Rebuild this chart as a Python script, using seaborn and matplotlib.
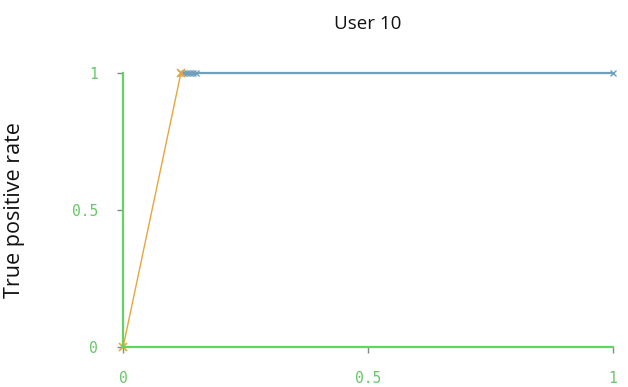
import matplotlib
matplotlib.use("Agg")
import matplotlib.pyplot as plt
import seaborn as sns
import pandas as pd

# ROC curve pieces for one user
rise_fpr = [0.0, 0.118]
rise_tpr = [0.0, 1.0]
flat_fpr = [0.118, 0.124, 0.130, 0.136, 0.142, 0.148, 1.0]
flat_tpr = [1.0, 1.0, 1.0, 1.0, 1.0, 1.0, 1.0]
tick_vals = [0, 0.5, 1]
tick_labels = ["0", "0.5", "1"]

sns.set_theme(style="white")
plt.rcParams["font.family"] = ["Open Sans", "DejaVu Sans"]

fig = plt.figure(figsize=(6.28, 3.87), dpi=100)
ax = fig.add_axes([0.196, 0.103, 0.78, 0.708])

rise = pd.DataFrame({"fpr": rise_fpr, "tpr": rise_tpr})
flat = pd.DataFrame({"fpr": flat_fpr, "tpr": flat_tpr})

sns.lineplot(data=flat, x="fpr", y="tpr", ax=ax, color="#6f9fbd", lw=1.6,
             marker="x", markersize=5, markeredgewidth=1.0,
             markeredgecolor="#6f9fbd", sort=False, clip_on=False)
sns.lineplot(data=rise, x="fpr", y="tpr", ax=ax, color="#e8a63a", lw=1.0,
             marker="x", markersize=6, markeredgewidth=1.2,
             markeredgecolor="#e8a63a", sort=False, clip_on=False)

ax.set_xlim(0, 1)
ax.set_ylim(0, 1)
ax.set_xticks(tick_vals)
ax.set_xticklabels(tick_labels)
ax.set_yticks(tick_vals)
ax.set_yticklabels(tick_labels)

green = "#5fd65f"
for side in ("top", "right"):
    ax.spines[side].set_visible(False)
for side in ("left", "bottom"):
    ax.spines[side].set_color(green)
    ax.spines[side].set_linewidth(1.6)

ax.tick_params(axis="both", which="both", length=4, width=1, color="#888888",
               labelcolor="#66c866", labelsize=10.5, direction="out",
               bottom=True, left=True)
ax.tick_params(axis="y", pad=14)
ax.tick_params(axis="x", pad=13)
for lab in ax.get_xticklabels() + ax.get_yticklabels():
    lab.set_family("DejaVu Sans Mono")

ax.set_xlabel("")
ax.set_ylabel("True positive rate", fontsize=15.5, color="#111111", labelpad=34)
ax.set_title("User 10", fontsize=13.5, color="#111111", pad=32)

fig.savefig("out.png", dpi=100, facecolor="white")
